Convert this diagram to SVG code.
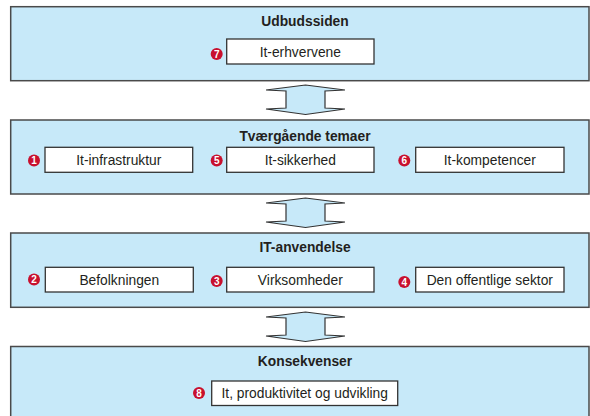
<svg xmlns="http://www.w3.org/2000/svg" width="590" height="416" viewBox="0 0 590 416">
<style>
.panel{fill:#c7e9f9;stroke:#4a4a4a;stroke-width:1.5}
.box{fill:#ffffff;stroke:#333333;stroke-width:1.3}
.title{font-family:"Liberation Sans",Arial,sans-serif;font-weight:bold;font-size:13.8px;fill:#231f20;text-anchor:middle}
.label{font-family:"Liberation Sans",Arial,sans-serif;font-size:13.8px;fill:#231f20;text-anchor:middle}
.badge{fill:#c8102e}
.num{font-family:"Liberation Sans",Arial,sans-serif;font-weight:bold;font-size:10px;fill:#ffffff;text-anchor:middle}
.arrow{fill:#c7e9f9;stroke:#333333;stroke-width:1.2;stroke-linejoin:miter}
</style>
<defs>
<path id="dbl" d="M266,5 L305.5,0 L345,5 L325,6 L325,23 L345,24 L305.5,29.5 L266,24 L286,23 L286,6 Z"/>
</defs>
<rect width="590" height="416" fill="#ffffff"/>

<g id="panel-udbud">
<rect class="panel" x="10.7" y="6.7" width="578.3" height="74"/>
<text class="title" x="305" y="26">Udbudssiden</text>
</g>
<g id="node-7">
<rect class="box" x="226.7" y="39" width="147.3" height="25"/>
<text class="label" x="300.3" y="56.6">It-erhvervene</text>
<circle class="badge" cx="216.7" cy="54" r="6"/>
<text class="num" x="216.7" y="57.5">7</text>
</g>

<g id="panel-tvaer">
<rect class="panel" x="10.7" y="120" width="578.3" height="74"/>
<text class="title" x="305" y="140.5">Tværgående temaer</text>
</g>
<g id="node-1">
<rect class="box" x="45" y="147.3" width="147.7" height="25"/>
<text class="label" x="118.8" y="164.9">It-infrastruktur</text>
<circle class="badge" cx="34" cy="160.5" r="6"/>
<text class="num" x="34" y="164">1</text>
</g>
<g id="node-5">
<rect class="box" x="226.7" y="147.3" width="147.3" height="25"/>
<text class="label" x="300.3" y="164.9">It-sikkerhed</text>
<circle class="badge" cx="216.7" cy="160.5" r="6"/>
<text class="num" x="216.7" y="164">5</text>
</g>
<g id="node-6">
<rect class="box" x="415.7" y="147.3" width="148.3" height="25"/>
<text class="label" x="489.8" y="164.9">It-kompetencer</text>
<circle class="badge" cx="404.3" cy="160.5" r="6"/>
<text class="num" x="404.3" y="164">6</text>
</g>

<g id="panel-anv">
<rect class="panel" x="10.7" y="233" width="578.3" height="74.3"/>
<text class="title" x="305" y="252.3">IT-anvendelse</text>
</g>
<g id="node-2">
<rect class="box" x="45.3" y="267.3" width="148" height="24.7"/>
<text class="label" x="119.3" y="284.7">Befolkningen</text>
<circle class="badge" cx="34" cy="279.5" r="6"/>
<text class="num" x="34" y="283">2</text>
</g>
<g id="node-3">
<rect class="box" x="226.7" y="267.3" width="147.3" height="24.7"/>
<text class="label" x="300.3" y="284.7">Virksomheder</text>
<circle class="badge" cx="216.7" cy="281" r="6"/>
<text class="num" x="216.7" y="284.5">3</text>
</g>
<g id="node-4">
<rect class="box" x="415.7" y="267.3" width="148.3" height="24.7"/>
<text class="label" x="489.8" y="284.7">Den offentlige sektor</text>
<circle class="badge" cx="404.3" cy="282" r="6"/>
<text class="num" x="404.3" y="285.5">4</text>
</g>

<g id="panel-kons">
<rect class="panel" x="10.7" y="346.5" width="578.3" height="80"/>
<text class="title" x="305" y="365.5">Konsekvenser</text>
</g>
<g id="node-8">
<rect class="box" x="211.7" y="381" width="186" height="24.5"/>
<text class="label" x="304.7" y="398.3">It, produktivitet og udvikling</text>
<circle class="badge" cx="199" cy="393" r="6"/>
<text class="num" x="199" y="396.5">8</text>
</g>

<g id="connectors">
<use href="#dbl" class="arrow" transform="translate(0,85)"/>
<use href="#dbl" class="arrow" transform="translate(0,198)"/>
<use href="#dbl" class="arrow" transform="translate(0,312)"/>
</g>
</svg>
